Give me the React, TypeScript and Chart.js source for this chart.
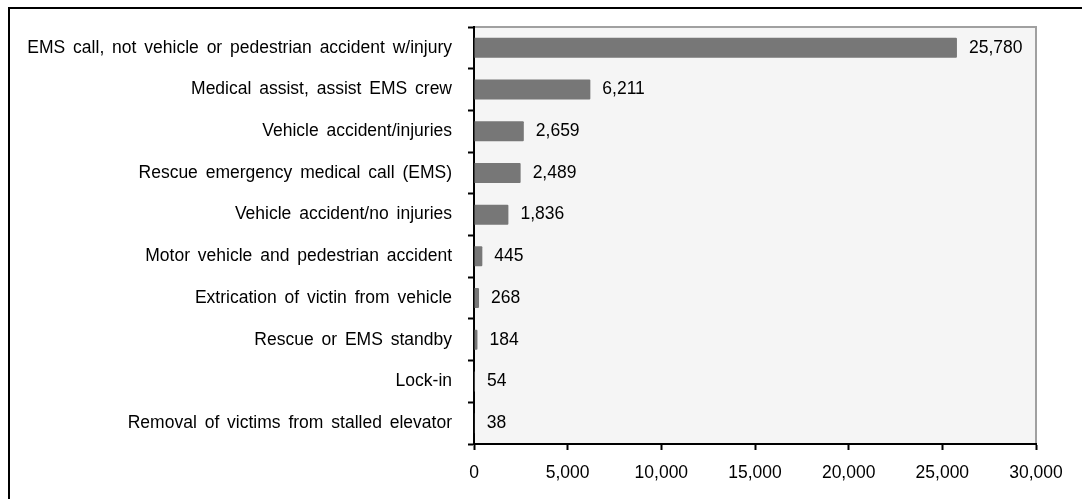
import React, { useEffect, useRef } from "react";
import { Chart, registerables } from "chart.js";

Chart.register(...registerables);

const categories = [
  "EMS call, not vehicle or pedestrian accident w/injury",
  "Medical assist, assist EMS crew",
  "Vehicle accident/injuries",
  "Rescue emergency medical call (EMS)",
  "Vehicle accident/no injuries",
  "Motor vehicle and pedestrian accident",
  "Extrication of victin from vehicle",
  "Rescue or EMS standby",
  "Lock-in",
  "Removal of victims from stalled elevator",
];
const values = [25780, 6211, 2659, 2489, 1836, 445, 268, 184, 54, 38];
const xTicks = [0, 5000, 10000, 15000, 20000, 25000, 30000];

const fmt = (n: number) => String(n).replace(/\B(?=(\d{3})+(?!\d))/g, ",");
const FONT = "'Liberation Sans', Arial, sans-serif";
const FS = 17.5;

const areaPlugin = {
  id: "areaPlugin",
  beforeDraw(chart: any) {
    const { ctx, chartArea: a } = chart;
    (ctx as any).wordSpacing = "3px";
    ctx.save();
    ctx.fillStyle = "#f5f5f5";
    ctx.fillRect(a.left, a.top, a.right - a.left, a.bottom - a.top);
    ctx.strokeStyle = "#a0a0a0";
    ctx.lineWidth = 2;
    ctx.beginPath();
    ctx.moveTo(a.left, a.top);
    ctx.lineTo(a.right, a.top);
    ctx.lineTo(a.right, a.bottom);
    ctx.stroke();
    ctx.restore();
  },
  afterDatasetsDraw(chart: any) {
    const { ctx } = chart;
    const meta = chart.getDatasetMeta(0);
    ctx.save();
    ctx.fillStyle = "#000";
    ctx.font = `${FS}px ${FONT}`;
    ctx.textAlign = "left";
    ctx.textBaseline = "middle";
    meta.data.forEach((bar: any, i: number) => {
      ctx.fillText(fmt(values[i]), bar.x + 12, bar.y);
    });
    ctx.restore();
  },
};

export default function App() {
  const ref = useRef<HTMLCanvasElement>(null);
  useEffect(() => {
    const chart = new Chart(ref.current!, {
      type: "bar",
      data: {
        labels: categories,
        datasets: [
          {
            data: values,
            backgroundColor: "#777777",
            barPercentage: 0.48,
            categoryPercentage: 1,
            borderRadius: 1,
          },
        ],
      },
      options: {
        indexAxis: "y",
        responsive: false,
        animation: false,
        layout: { padding: { left: 0, top: 27, right: 46, bottom: 0 } },
        plugins: { legend: { display: false }, tooltip: { enabled: false } },
        scales: {
          y: {
            offset: true,
            grid: {
              offset: true,
              drawOnChartArea: false,
              tickLength: 6,
              tickColor: "#000",
              tickWidth: 2,
            },
            border: { color: "#000", width: 2 },
            ticks: {
              padding: 16,
              color: "#000",
              font: { family: FONT, size: FS },
              autoSkip: false,
            },
            afterFit: (s: any) => {
              s.width = 474;
            },
          },
          x: {
            min: 0,
            max: 30000,
            afterBuildTicks: (s: any) => {
              s.ticks = xTicks.map((v) => ({ value: v }));
            },
            grid: {
              drawOnChartArea: false,
              tickLength: 6,
              tickColor: "#000",
              tickWidth: 2,
            },
            border: { color: "#000", width: 2 },
            ticks: {
              padding: 13,
              color: "#000",
              font: { family: FONT, size: FS },
              maxRotation: 0,
              callback: (v: any) => fmt(Number(v)),
            },
            afterFit: (s: any) => {
              s.height = 55;
            },
          },
        },
      },
      plugins: [areaPlugin],
    } as any);
    return () => chart.destroy();
  }, []);
  return (
    <>
      <div
        style={{
          position: "fixed",
          left: 8,
          top: 7,
          width: 1200,
          height: 700,
          border: "2px solid #000",
          boxSizing: "border-box",
        }}
      />
      <canvas
        ref={ref}
        width={1082}
        height={499}
        style={{ position: "fixed", left: 0, top: 0, width: 1082, height: 499 }}
      />
    </>
  );
}
